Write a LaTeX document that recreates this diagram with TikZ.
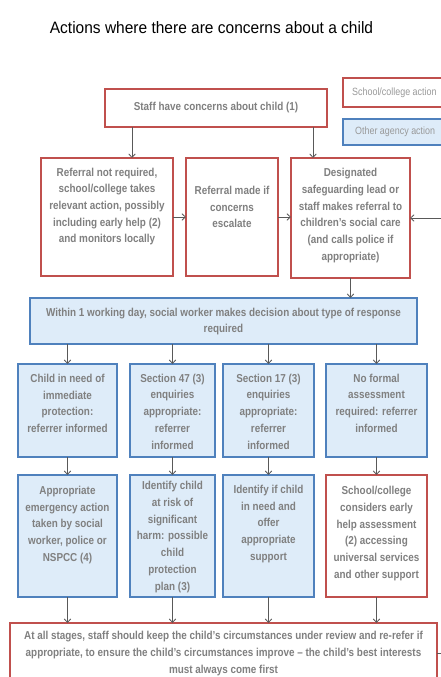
\documentclass[tikz,border=0pt]{standalone}
\usepackage{fontspec}
\setmainfont{Liberation Sans}
\newfontfamily\bodyfont[FakeStretch=0.86,Ligatures=TeX]{Liberation Sans}
\newfontfamily\titlefont[FakeStretch=0.94]{Liberation Sans}
\newfontfamily\legfont[FakeStretch=0.85]{Liberation Sans}
\usetikzlibrary{arrows.meta}
\definecolor{redb}{HTML}{C0504D}
\definecolor{blueb}{HTML}{4F81BD}
\definecolor{bluef}{HTML}{DEECF9}
\definecolor{txtg}{HTML}{808080}
\definecolor{legg}{HTML}{999999}
\definecolor{arrg}{HTML}{595959}
\newcommand\mybox[6]{\node[#1, minimum width={#5-#3}, minimum height={#6-#4}] (#2) at ({(#3+#5)/2},{(#4+#6)/2}) {};}
\tikzset{
  redbox/.style={draw=redb, line width=1.8pt, fill=white, inner sep=0pt, outer sep=0pt},
  bluebox/.style={draw=blueb, line width=1.8pt, fill=bluef, inner sep=0pt, outer sep=0pt},
  txt/.style={inner sep=0pt, align=center, text=txtg, font=\bodyfont\bfseries\fontsize{11.5}{16.7}\selectfont},
  legtxt/.style={inner sep=0pt, anchor=west, text=legg, font=\legfont\fontsize{10.5}{12}\selectfont},
  arr/.style={draw=arrg, line width=0.8pt, -{Straight Barb[length=3.5pt,width=6.5pt]}},
  ln/.style={draw=arrg, line width=0.8pt}
}
\begin{document}
\begin{tikzpicture}[x=1pt, y=-1pt]
\useasboundingbox (0,0) rectangle (441,677);
\clip (0,0) rectangle (441,677);
\fill[white] (0,0) rectangle (441,677);
% title
\node[inner sep=0pt, font=\titlefont\fontsize{16.5}{18}\selectfont] (title) at (211.5,28) {Actions where there are concerns about a child};
% legend
\mybox{redbox}{legR}{343}{78}{452}{107}
\node[legtxt] (legRt) at (352,92.5) {School/college action};
\mybox{bluebox}{legB}{343}{119}{452}{145}
\node[legtxt] (legBt) at (355,132) {Other agency action};
% boxes
\mybox{redbox}{S}{105}{89}{327}{127}
\mybox{redbox}{A}{41}{158}{173}{276}
\mybox{redbox}{B}{186}{158}{278}{276}
\mybox{redbox}{C}{291}{158}{410}{278}
\mybox{bluebox}{W}{30}{298}{417}{344}
\mybox{bluebox}{D}{18}{364}{117}{457}
\mybox{bluebox}{E}{130}{364}{215}{457}
\mybox{bluebox}{F}{223}{364}{314}{457}
\mybox{bluebox}{G}{326}{364}{427}{457}
\mybox{bluebox}{H}{18}{475}{117}{597}
\mybox{bluebox}{I}{130}{475}{215}{597}
\mybox{bluebox}{J}{223}{475}{314}{597}
\mybox{redbox}{K}{326}{475}{427}{597}
\mybox{redbox}{Bot}{10}{623}{437}{684}
% texts
\node[txt] (St) at (216,108) {Staff have concerns about child (1)};
\node[txt] (At) at (107,206.5) {Referral not required,\\school/college takes\\relevant action, possibly\\including early help (2)\\and monitors locally};
\node[txt] (Bt) at (232,207) {Referral made if\\concerns\\escalate};
\node[txt] (Ct) at (350.5,215.5) {Designated\\safeguarding lead or\\staff makes referral to\\children’s social care\\(and calls police if\\appropriate)};
\node[txt] (Wt) at (223.5,321.5) {Within 1 working day, social worker makes decision about type of response\\required};
\node[txt] (Dt) at (67.5,403.5) {Child in need of\\immediate\\protection:\\referrer informed};
\node[txt] (Et) at (172.5,411.5) {Section 47 (3)\\enquiries\\appropriate:\\referrer\\informed};
\node[txt] (Ft) at (268.5,411.5) {Section 17 (3)\\enquiries\\appropriate:\\referrer\\informed};
\node[txt] (Gt) at (376.5,403) {No formal\\assessment\\required: referrer\\informed};
\node[txt] (Ht) at (67.5,525) {Appropriate\\emergency action\\taken by social\\worker, police or\\NSPCC (4)};
\node[txt] (It) at (172.5,537) {Identify child\\at risk of\\significant\\harm: possible\\child\\protection\\plan (3)};
\node[txt] (Jt) at (268.5,524) {Identify if child\\in need and\\offer\\appropriate\\support};
\node[txt] (Kt) at (376.5,533.5) {School/college\\considers early\\help assessment\\(2) accessing\\universal services\\and other support};
\node[txt] (Bott) at (223.5,653.5) {At all stages, staff should keep the child’s circumstances under review and re-refer if\\appropriate, to ensure the child’s circumstances improve – the child’s best interests\\must always come first};
% connectors
\coordinate (s1) at (132,127);
\coordinate (s2) at (313,127);
\draw[arr] (s1) -- (s1 |- A.north);
\draw[arr] (s2) -- (s2 |- C.north);
\draw[arr] (A.east) -- (A.east -| B.west);
\draw[arr] (B.east) -- (B.east -| C.west);
\draw[arr] (C.south) -- (C.south |- W.north);
\foreach \n/\m in {D/H,E/I,F/J,G/K}{
  \draw[arr] (\n.north |- W.south) -- (\n.north);
  \draw[arr] (\n.south) -- (\m.north);
  \draw[arr] (\m.south) -- (\m.south |- Bot.north);
}
\coordinate (fb1) at (460,653);
\coordinate (fb2) at (460,218);
\draw[ln] (Bot.east |- fb1) -- (fb1) -- (fb2);
\draw[arr] (fb2) -- (fb2 -| C.east);
\end{tikzpicture}
\end{document}
